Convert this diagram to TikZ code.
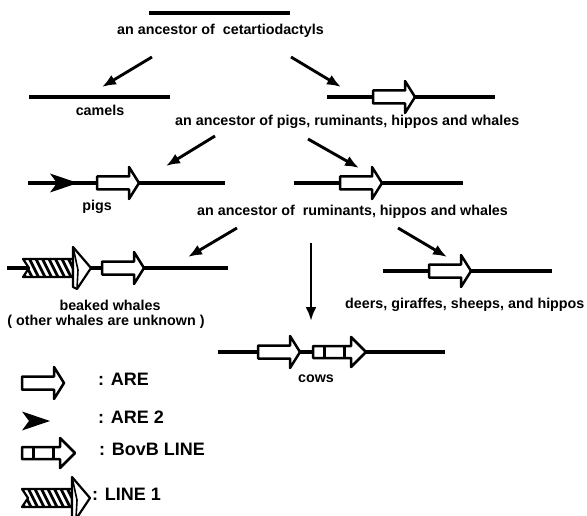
\documentclass[tikz,border=0pt]{standalone}
\usepackage{fontspec}
\setmainfont{Liberation Sans}
\usetikzlibrary{arrows.meta}
\tikzset{
  gene/.style={line width=4.5bp},
  conn/.style={line width=2.9bp, -{Latex[length=14bp,width=11bp]}},
  lab/.style={font=\bfseries\fontsize{14.3bp}{15bp}\selectfont, inner sep=0pt},
  leg/.style={font=\bfseries\fontsize{18bp}{20bp}\selectfont, inner sep=0pt, anchor=mid west},
  are/.pic={\draw[line width=2.5bp, fill=white, line join=round]
      (0,-6.5) -- (32,-6.5) -- (32,-16) -- (42,0) -- (32,16) -- (32,6.5) -- (0,6.5) -- cycle;},
  aretwo/.pic={\fill (0,-9.5) -- (28,0) -- (0,9.5) -- (7,0) -- cycle;},
  bovb/.pic={\draw[line width=2.5bp, fill=white, line join=round]
      (0,-6) -- (38,-6) -- (38,-15) -- (53,0) -- (38,15) -- (38,6) -- (0,6) -- cycle;
      \draw[line width=3bp] (11,-6) -- (11,6) (31,-6) -- (31,6);},
  lineone/.pic={
      \fill[white] (0,-9) -- (50,-9) -- (50,9) -- (0,9) -- (6,0) -- cycle;
      \begin{scope}
        \clip (0,-9) -- (50,-9) -- (50,9) -- (0,9) -- (6,0) -- cycle;
        \foreach \i in {-2,...,8} {\draw[line width=2.8bp] (\i*6.5,-9) -- (\i*6.5+9,9);}
      \end{scope}
      \draw[line width=2.2bp, line join=round] (0,-9) -- (50,-9) -- (50,9) -- (0,9) -- (6,0) -- cycle;
      \draw[line width=2.2bp, fill=white, line join=round]
        (50,-21) -- (68,0) -- (54,21) -- (50,19) -- cycle;
      \draw[line width=1.6bp] (50,-21) -- (55,2) -- (54,21);}
}
\begin{document}
\begin{tikzpicture}[x=1bp,y=-1bp]
\useasboundingbox[fill=white] (0,0) rectangle (587,516);

% gene lines
\coordinate (l0a) at (149,13);  \coordinate (l0b) at (290,13);
\coordinate (cma) at (29,97);   \coordinate (cmb) at (170,97);
\coordinate (r1a) at (327,97);  \coordinate (r1b) at (495,97);
\coordinate (pga) at (28,183);  \coordinate (pgb) at (225,183);
\coordinate (r2a) at (294,183); \coordinate (r2b) at (463,183);
\coordinate (wha) at (7,268);   \coordinate (whb) at (228,268);
\coordinate (dea) at (383,271); \coordinate (deb) at (552,271);
\coordinate (cwa) at (218,352); \coordinate (cwb) at (445,352);
\foreach \a/\b in {l0a/l0b,cma/cmb,r1a/r1b,pga/pgb,r2a/r2b,wha/whb,dea/deb,cwa/cwb}
  \draw[gene] (\a) -- (\b);

% elements on the lines
\pic at (373,97) {are};
\pic at (50,183) {aretwo};
\pic at (97,183) {are};
\pic at (340,183) {are};
\pic at (23,268) {lineone};
\pic at (102,268) {are};
\pic at (429,271) {are};
\pic at (258,352) {are};
\pic at (313,352) {bovb};

% labels
\node[lab, anchor=mid west] (t0) at (117,32) {an ancestor of~ cetartiodactyls};
\node[lab, anchor=mid] (camels) at (100,113) {camels};
\node[lab, anchor=mid west] (t1) at (175,123) {an ancestor of pigs, ruminants, hippos and whales};
\node[lab, anchor=mid] (pigs) at (97,208) {pigs};
\node[lab, anchor=mid west] (t2) at (197,213) {an ancestor of~ ruminants, hippos and whales};
\node[lab, anchor=mid] (beaked) at (110,308) {beaked whales};
\node[lab, anchor=mid] (other) at (106,323) {( other whales are unknown )};
\node[lab, anchor=mid west] (deers) at (345,306) {deers, giraffes, sheeps, and hippos};
\node[lab, anchor=mid] (cows) at (316,380) {cows};

% connectors
\coordinate (a1s) at (152,57);  \coordinate (a1e) at (102,87);
\coordinate (a2s) at (291,57);  \coordinate (a2e) at (341,87);
\coordinate (a3s) at (215,136); \coordinate (a3e) at (166,166);
\coordinate (a4s) at (308,139); \coordinate (a4e) at (359,168);
\coordinate (a5s) at (237,228); \coordinate (a5e) at (188,257);
\coordinate (a6s) at (311,243); \coordinate (a6e) at (311,321);
\coordinate (a7s) at (398,228); \coordinate (a7e) at (447,257);
\foreach \s/\e in {a1s/a1e,a2s/a2e,a3s/a3e,a4s/a4e,a5s/a5e,a6s/a6e,a7s/a7e}
  \draw[conn] (\s) -- (\e);

% legend
\pic at (22,383) {are};
\pic at (22,421) {aretwo};
\pic at (22,453) {bovb};
\pic at (22,498) {lineone};
\node[leg] (kare) at (98,383) {: ARE};
\node[leg] (kare2) at (98,421) {: ARE 2};
\node[leg] (kbovb) at (99,453) {: BovB LINE};
\node[leg] (kline) at (92,498) {: LINE 1};
\end{tikzpicture}
\end{document}
